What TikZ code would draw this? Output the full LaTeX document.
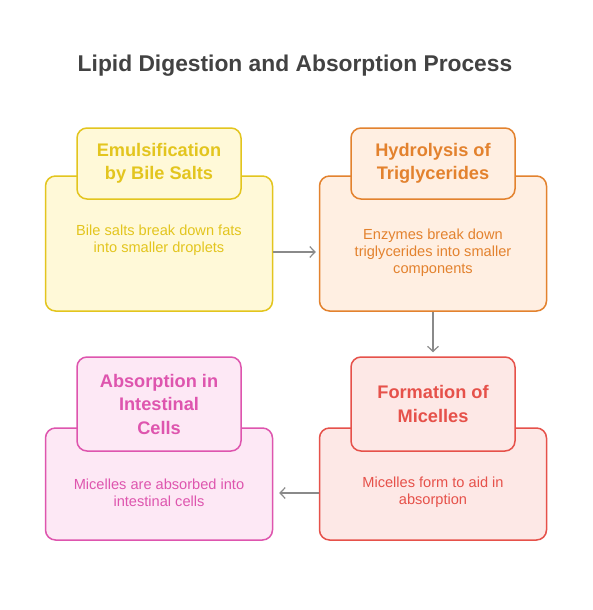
\documentclass[tikz,border=0pt]{standalone}
\usepackage{fontspec}
\setmainfont{Liberation Sans}
\usetikzlibrary{arrows.meta, positioning}

\definecolor{yelline}{HTML}{E3C51E}
\definecolor{yelfill}{HTML}{FFF9D8}
\definecolor{oraline}{HTML}{E3822E}
\definecolor{orafill}{HTML}{FFEFE2}
\definecolor{redline}{HTML}{E6514A}
\definecolor{redfill}{HTML}{FDE8E6}
\definecolor{pinkline}{HTML}{DE55AE}
\definecolor{pinkfill}{HTML}{FDE8F5}
\definecolor{arrowgray}{HTML}{8A8A8A}
\definecolor{titlegray}{HTML}{424242}

\begin{document}
\begin{tikzpicture}[
  x=1pt, y=-1pt,
  card/.style = {draw, line width=1.5pt, rounded corners=10pt, minimum width=227pt, minimum height=135pt},
  headcard/.style = {draw, line width=1.5pt, rounded corners=10pt, minimum width=164pt, minimum height=71pt},
  head/.style = {font=\fontsize{18.2}{23.5}\selectfont\bfseries, align=center},
  body/.style = {font=\fontsize{14.6}{17}\selectfont, align=center},
  arrow/.style = {draw=arrowgray, line width=1.2pt, -{Straight Barb[length=1.8mm,width=3.8mm]}}
]
  \useasboundingbox[fill=white] (0,0) rectangle (593,610);

  % Title
  \node[font=\fontsize{22.8}{26}\selectfont\bfseries, text=titlegray] (title) at (295,66) {Lipid Digestion and Absorption Process};

  % Emulsification
  \node[card, draw=yelline, fill=yelfill] (emul_box) at (159,243.5) {};
  \node[headcard, draw=yelline, fill=yelfill] (emul_title) at (159,163.5) {};
  \node[head, text=yelline] (emul_head) at (emul_title) {Emulsification\\by Bile Salts};
  \node[body, text=yelline] (emul_text) at (159,240.5) {Bile salts break down fats\\into smaller droplets};

  % Hydrolysis
  \node[card, draw=oraline, fill=orafill] (hydro_box) at (433,243.5) {};
  \node[headcard, draw=oraline, fill=orafill] (hydro_title) at (433,163.5) {};
  \node[head, text=oraline] (hydro_head) at (hydro_title) {Hydrolysis of\\Triglycerides};
  \node[body, text=oraline] (hydro_text) at (433,252.5) {Enzymes break down\\triglycerides into smaller\\components};

  % Micelles
  \node[card, draw=redline, fill=redfill, minimum height=112pt] (micel_box) at (433,484) {};
  \node[headcard, draw=redline, fill=redfill, minimum height=94pt] (micel_title) at (433,404) {};
  \node[head, text=redline] (micel_head) at (micel_title) {Formation of\\Micelles};
  \node[body, text=redline] (micel_text) at (433,492.5) {Micelles form to aid in\\absorption};

  % Absorption
  \node[card, draw=pinkline, fill=pinkfill, minimum height=112pt] (absorb_box) at (159,484) {};
  \node[headcard, draw=pinkline, fill=pinkfill, minimum height=94pt] (absorb_title) at (159,404) {};
  \node[head, text=pinkline] (absorb_head) at (absorb_title) {Absorption in\\Intestinal\\Cells};
  \node[body, text=pinkline] (absorb_text) at (159,492.5) {Micelles are absorbed into\\intestinal cells};

  % Arrows
  \draw[arrow, shorten >=3pt] ([yshift=-8.5pt]emul_box.east) -- ([yshift=-8.5pt]hydro_box.west);
  \draw[arrow, shorten >=4pt] (hydro_box.south) -- (micel_title.north);
  \draw[arrow, shorten >=6pt] ([yshift=-9pt]micel_box.west) -- ([yshift=-9pt]absorb_box.east);
\end{tikzpicture}
\end{document}
